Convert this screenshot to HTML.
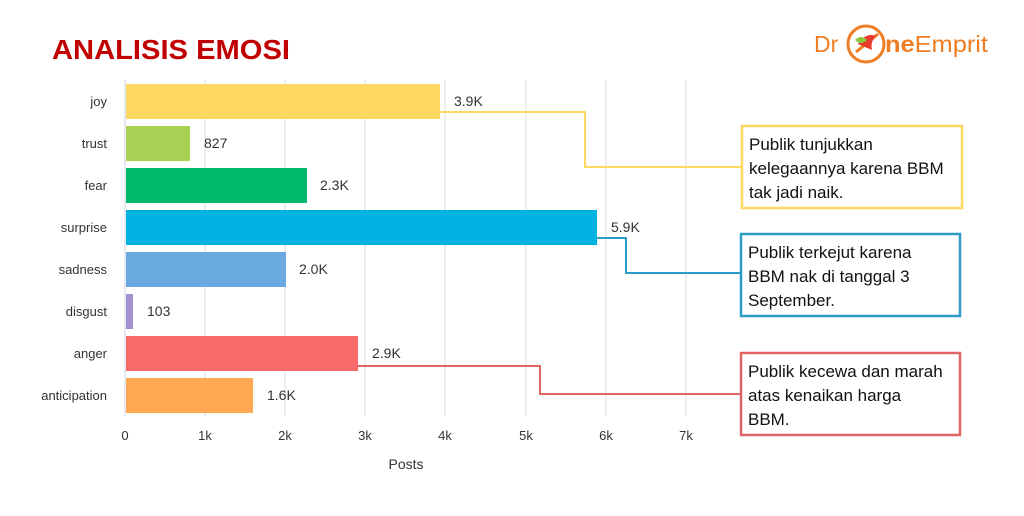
<!DOCTYPE html>
<html><head><style>
body{margin:0;width:1024px;height:511px;background:#fff;overflow:hidden;font-family:"Liberation Sans",sans-serif;}
</style></head><body>
<svg width="1024" height="511" xmlns="http://www.w3.org/2000/svg" font-family="Liberation Sans, sans-serif">
<text x="52" y="59" font-size="28" font-weight="bold" fill="#c00000" textLength="238" lengthAdjust="spacingAndGlyphs">ANALISIS EMOSI</text>
<!-- logo -->
<text x="814" y="52" font-size="23" fill="#ef7d22">Dr</text>
<circle cx="866" cy="44" r="18" fill="none" stroke="#ef7d22" stroke-width="3"/>
<path d="M856 52 L878 34" stroke="#ef7d22" stroke-width="3"/>
<path d="M858 44 q8 -12 18 -8 q-6 6 -4 14 z" fill="#e63a2a"/>
<path d="M855 40 q6 -6 12 0 q-6 6 -12 0z" fill="#8cc63f"/>
<text x="885" y="52" font-size="23" fill="#ef7d22" textLength="103" lengthAdjust="spacingAndGlyphs"><tspan font-weight="bold">ne</tspan>Emprit</text>
<!-- grid -->
<g stroke="#d6dbe8" stroke-width="1">
<line x1="205" y1="80" x2="205" y2="416"/><line x1="285" y1="80" x2="285" y2="416"/><line x1="365" y1="80" x2="365" y2="416"/><line x1="445" y1="80" x2="445" y2="416"/><line x1="526" y1="80" x2="526" y2="416"/><line x1="606" y1="80" x2="606" y2="416"/><line x1="686" y1="80" x2="686" y2="416"/>
</g>
<line x1="125" y1="80" x2="125" y2="416" stroke="#ccd3e0"/>
<g>
<rect x="126" y="84" width="314" height="35" fill="#fdd862"/>
<rect x="126" y="126" width="64" height="35" fill="#a6d152"/>
<rect x="126" y="168" width="181" height="35" fill="#00ba6c"/>
<rect x="126" y="210" width="471" height="35" fill="#00b2e1"/>
<rect x="126" y="252" width="160" height="35" fill="#6aaae1"/>
<rect x="126" y="294" width="7" height="35" fill="#a590d1"/>
<rect x="126" y="336" width="232" height="35" fill="#f86b6a"/>
<rect x="126" y="378" width="127" height="35" fill="#fea853"/>
</g>
<g font-size="13" fill="#333" text-anchor="end">
<text x="107" y="106">joy</text><text x="107" y="148">trust</text><text x="107" y="190">fear</text><text x="107" y="232">surprise</text><text x="107" y="274">sadness</text><text x="107" y="316">disgust</text><text x="107" y="358">anger</text><text x="107" y="400">anticipation</text>
</g>
<g font-size="14" fill="#333">
<text x="454" y="106">3.9K</text><text x="204" y="148">827</text><text x="320" y="190">2.3K</text><text x="611" y="232">5.9K</text><text x="299" y="274">2.0K</text><text x="147" y="316">103</text><text x="372" y="358">2.9K</text><text x="267" y="400">1.6K</text>
</g>
<g font-size="13" fill="#333" text-anchor="middle">
<text x="125" y="440">0</text><text x="205" y="440">1k</text><text x="285" y="440">2k</text><text x="365" y="440">3k</text><text x="445" y="440">4k</text><text x="526" y="440">5k</text><text x="606" y="440">6k</text><text x="686" y="440">7k</text>
<text x="406" y="469" font-size="14">Posts</text>
</g>
<polyline points="440,112 585,112 585,167 741,167" fill="none" stroke="#fdd862" stroke-width="2"/>
<polyline points="597,238 626,238 626,273 740,273" fill="none" stroke="#2e9bc6" stroke-width="2"/>
<polyline points="358,366 540,366 540,394 740,394" fill="none" stroke="#e06666" stroke-width="2"/>
<rect x="742" y="126" width="220" height="82" fill="#fff" stroke="#fdd862" stroke-width="2.5"/>
<rect x="741" y="234" width="219" height="82" fill="#fff" stroke="#2e9bc6" stroke-width="2.5"/>
<rect x="741" y="353" width="219" height="82" fill="#fff" stroke="#e06666" stroke-width="2.5"/>
<g font-size="17" fill="#111">
<text x="749" y="150">Publik tunjukkan</text><text x="749" y="174">kelegaannya karena BBM</text><text x="749" y="198">tak jadi naik.</text>
<text x="748" y="258">Publik terkejut karena</text><text x="748" y="282">BBM nak di tanggal 3</text><text x="748" y="306">September.</text>
<text x="748" y="377">Publik kecewa dan marah</text><text x="748" y="401">atas kenaikan harga</text><text x="748" y="425">BBM.</text>
</g>
</svg>
</body></html>
